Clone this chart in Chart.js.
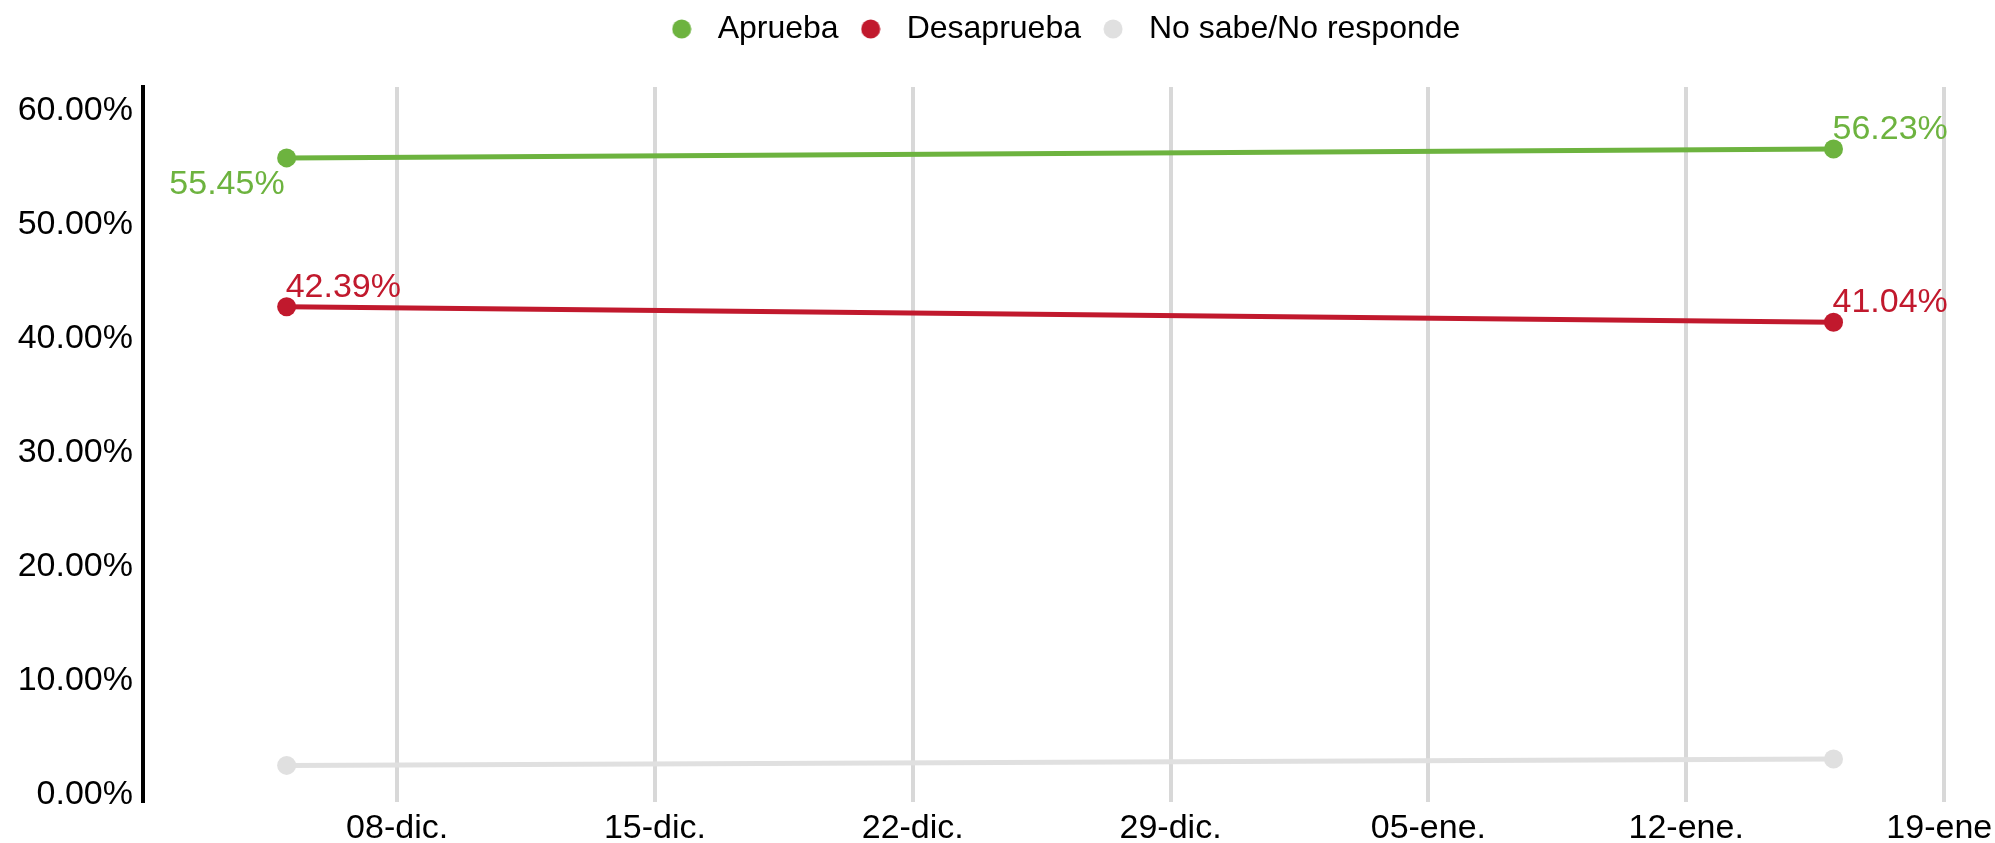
<!DOCTYPE html>
<html>
<head>
<meta charset="utf-8">
<script src="https://cdn.jsdelivr.net/npm/chart.js@4.4.0/dist/chart.umd.min.js"></script>
<style>
  html, body { margin: 0; padding: 0; background: #fff; overflow: hidden; }
  #wrap { position: relative; width: 1995px; height: 843px; }
</style>
</head>
<body>
<div id="wrap"><canvas id="approvalChart"></canvas></div>
<script>
const surveyDates = ['2024-12-05', '2025-01-16'];
const aprueba = [55.45, 56.23];
const desaprueba = [42.39, 41.04];
const noSabe = [2.16, 2.73];

const tickDates = ['2024-12-08', '2024-12-15', '2024-12-22', '2024-12-29', '2025-01-05', '2025-01-12', '2025-01-19'];
const tickLabels = ['08-dic.', '15-dic.', '22-dic.', '29-dic.', '05-ene.', '12-ene.', '19-ene.'];
const yTicks = [0, 10, 20, 30, 40, 50, 60];

const FONT = '"Liberation Sans", Arial, Helvetica, sans-serif';
Chart.defaults.font.family = FONT;
Chart.defaults.color = '#000';

// days since epoch, so the x axis can stay linear (no date adapter)
const toDay = s => Date.parse(s + 'T00:00:00Z') / 86400000;
const surveyDays = surveyDates.map(toDay);
const tickDays = tickDates.map(toDay);

const points = vals => vals.map((v, i) => ({ x: surveyDays[i], y: v }));

// small round marker for the legend
function makeDot(color) {
  const c = document.createElement('canvas');
  c.width = 20; c.height = 20;
  const g = c.getContext('2d');
  g.fillStyle = color;
  g.beginPath();
  g.arc(10, 10, 9.5, 0, Math.PI * 2);
  g.fill();
  return c;
}

// value labels next to the points
const valueLabels = {
  id: 'valueLabels',
  afterDatasetsDraw(chart) {
    const ctx = chart.ctx;
    chart.data.datasets.forEach((ds, di) => {
      if (!ds.valueLabels) return;
      chart.getDatasetMeta(di).data.forEach((pt, i) => {
        const below = ds.valueLabels[i] === 'below';
        ctx.save();
        ctx.font = '34px ' + FONT;
        ctx.fillStyle = ds.borderColor;
        ctx.textBaseline = 'alphabetic';
        ctx.textAlign = below ? 'right' : 'left';
        ctx.fillText(ds.data[i].y.toFixed(2) + '%', below ? pt.x - 2 : pt.x - 1, below ? pt.y + 36 : pt.y - 10);
        ctx.restore();
      });
    });
  }
};

// fixed legend height + nudge it right
const legendSpace = {
  id: 'legendSpace',
  beforeInit(chart) {
    const origFit = chart.legend.fit;
    chart.legend.fit = function () {
      origFit.bind(chart.legend)();
      this.height = 86;
      if (this.lineWidths && this.lineWidths.length) this.lineWidths[0] -= 178;
    };
  }
};

const line = (label, vals, color, labels) => ({
  label: label,
  data: points(vals),
  borderColor: color,
  backgroundColor: color,
  pointBackgroundColor: color,
  borderWidth: 5,
  pointRadius: 9.5,
  pointBorderWidth: 0,
  pointHoverRadius: 9.5,
  tension: 0,
  valueLabels: labels
});

const ctx = document.getElementById('approvalChart');
new Chart(ctx, {
  type: 'line',
  data: {
    datasets: [
      line('Aprueba', aprueba, '#6db33f', ['below', 'above']),
      line('Desaprueba', desaprueba, '#c1192d', ['above', 'above']),
      line('No sabe/No responde', noSabe, '#e0e0e0', null)
    ]
  },
  options: {
    responsive: true,
    maintainAspectRatio: false,
    animation: false,
    layout: { padding: { left: 0, right: 51, top: 1, bottom: 0 } },
    plugins: {
      tooltip: { enabled: false },
      legend: {
        position: 'top',
        labels: {
          usePointStyle: true,
          pointStyleWidth: 40,
          boxHeight: 20,
          padding: 12,
          font: { size: 32 },
          color: '#000',
          generateLabels(chart) {
            return Chart.defaults.plugins.legend.labels.generateLabels(chart)
              .map(l => ({ ...l, lineWidth: 0, pointStyle: makeDot(l.fillStyle) }));
          }
        }
      }
    },
    scales: {
      x: {
        type: 'linear',
        min: toDay('2024-12-01') + 0.1,
        max: toDay('2025-01-19'),
        afterBuildTicks(scale) {
          scale.ticks = tickDays.map(v => ({ value: v }));
        },
        afterFit(scale) {
          scale.height = 41;
          scale.paddingLeft = 0;
          scale.paddingRight = 0;
        },
        ticks: {
          autoSkip: false,
          maxRotation: 0,
          padding: 10,
          font: { size: 34, lineHeight: 1 },
          color: '#000',
          callback: v => tickLabels[tickDays.indexOf(v)]
        },
        grid: { display: true, color: '#d8d8d8', lineWidth: 4, drawTicks: false },
        border: { display: false }
      },
      y: {
        min: -1.05,
        max: 61.67,
        afterBuildTicks(scale) {
          scale.ticks = yTicks.map(v => ({ value: v }));
        },
        afterFit(scale) {
          scale.width = 143;
        },
        ticks: {
          padding: 10,
          labelOffset: 5,
          font: { size: 34 },
          color: '#000',
          callback: v => v.toFixed(2) + '%'
        },
        grid: { display: false, drawTicks: false },
        border: { display: true, color: '#000', width: 4 }
      }
    }
  },
  plugins: [valueLabels, legendSpace]
});
</script>
</body>
</html>
